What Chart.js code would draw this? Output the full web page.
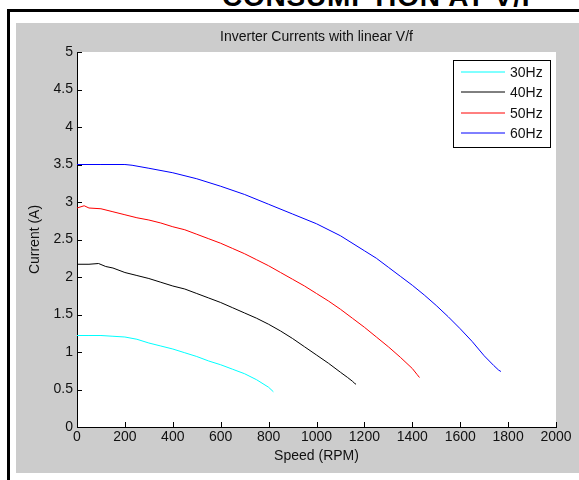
<!DOCTYPE html>
<html>
<head>
<meta charset="utf-8">
<script src="https://cdn.jsdelivr.net/npm/chart.js@4.4.0/dist/chart.umd.min.js"></script>
<style>
  body { margin: 0; background: #fff; overflow: hidden; width: 579px; height: 480px; position: relative; }
  #frame { position: absolute; left: 7px; top: 9px; width: 620px; height: 520px; border-left: 3px solid #000; border-top: 3px solid #000; }
  #head { position: absolute; left: 222px; top: -17px; font: bold 28px "Liberation Sans", Arial, sans-serif; line-height: 28px; letter-spacing: 0.8px; color: #000; white-space: nowrap; }
  #chart1 { position: absolute; left: 16px; top: 23px; background: #cccccc; }
</style>
</head>
<body>
<div id="head">CONSUMPTION AT V/F</div>
<div id="frame"></div>
<canvas id="chart1" width="563" height="450"></canvas>
<script>
// speed (RPM) and current (A) for each supply frequency
const speed30 = [0, 50, 100, 150, 200, 250, 300, 350, 400, 450, 500, 550, 600, 650, 700, 750, 800, 820];
const current30 = [1.22, 1.22, 1.22, 1.21, 1.20, 1.17, 1.12, 1.08, 1.04, 0.99, 0.94, 0.88, 0.83, 0.77, 0.71, 0.63, 0.53, 0.47];

const speed40 = [0, 50, 90, 120, 150, 200, 250, 300, 350, 400, 450, 500, 550, 600, 650, 700, 750, 800, 850, 900, 950, 1000, 1050, 1100, 1130, 1150, 1160, 1165];
const current40 = [2.17, 2.17, 2.18, 2.14, 2.12, 2.06, 2.02, 1.98, 1.93, 1.88, 1.84, 1.78, 1.72, 1.66, 1.59, 1.52, 1.45, 1.37, 1.28, 1.18, 1.07, 0.96, 0.85, 0.73, 0.66, 0.61, 0.58, 0.57];

const speed50 = [0, 30, 50, 100, 150, 200, 250, 300, 350, 400, 450, 500, 550, 600, 650, 700, 750, 800, 850, 900, 950, 1000, 1050, 1100, 1150, 1200, 1250, 1300, 1350, 1400, 1420, 1430];
const current50 = [2.92, 2.95, 2.92, 2.91, 2.87, 2.83, 2.79, 2.76, 2.72, 2.67, 2.63, 2.57, 2.51, 2.45, 2.38, 2.31, 2.23, 2.15, 2.06, 1.97, 1.88, 1.78, 1.68, 1.57, 1.45, 1.33, 1.20, 1.07, 0.93, 0.78, 0.70, 0.66];

const speed60 = [0, 100, 200, 230, 300, 400, 500, 600, 700, 800, 900, 1000, 1100, 1200, 1250, 1300, 1350, 1400, 1450, 1500, 1550, 1600, 1650, 1700, 1740, 1760, 1770];
const current60 = [3.50, 3.50, 3.50, 3.49, 3.45, 3.39, 3.31, 3.21, 3.10, 2.97, 2.84, 2.71, 2.55, 2.35, 2.25, 2.13, 2.01, 1.89, 1.76, 1.62, 1.47, 1.31, 1.14, 0.95, 0.82, 0.76, 0.74];

const labels = ['30Hz', '40Hz', '50Hz', '60Hz'];
const colors = ['#00ffff', '#000000', '#ff0000', '#0000ff'];

function pts(xs, ys) {
    return xs.map(function (x, i) { return { x: x, y: ys[i] }; });
}

const font = { family: '"Liberation Sans", Arial, sans-serif', size: 14, weight: 'normal' };

// white axes background
const axesBg = {
    id: 'axesBg',
    beforeDraw: function (chart) {
        const a = chart.chartArea, ctx = chart.ctx;
        ctx.save();
        ctx.fillStyle = '#ffffff';
        ctx.fillRect(a.left, a.top, a.right - a.left, a.bottom - a.top);
        ctx.restore();
    }
};

// matlab style ticks pointing inwards
const innerTicks = {
    id: 'innerTicks',
    afterDraw: function (chart) {
        const ctx = chart.ctx, a = chart.chartArea;
        const xs = chart.scales.x, ys = chart.scales.y;
        ctx.save();
        ctx.strokeStyle = '#000';
        ctx.lineWidth = 1;
        ctx.beginPath();
        xs.ticks.forEach(function (t) {
            const px = Math.round(xs.getPixelForValue(t.value)) + 0.5;
            ctx.moveTo(px, a.bottom);
            ctx.lineTo(px, a.bottom - 5);
        });
        ys.ticks.forEach(function (t) {
            const py = Math.round(ys.getPixelForValue(t.value)) + 0.5;
            ctx.moveTo(a.left, py);
            ctx.lineTo(a.left + 5, py);
        });
        ctx.stroke();
        ctx.restore();
    }
};

// boxed legend in the top right corner of the axes
const boxLegend = {
    id: 'boxLegend',
    afterDatasetsDraw: function (chart) {
        const ctx = chart.ctx, a = chart.chartArea;
        const w = 97, h = 87;
        const x0 = a.right - 6 - w, y0 = a.top + 8;
        ctx.save();
        ctx.fillStyle = '#fff';
        ctx.fillRect(x0, y0, w, h);
        ctx.strokeStyle = '#000';
        ctx.lineWidth = 1;
        ctx.strokeRect(x0 + 0.5, y0 + 0.5, w, h);
        ctx.font = font.size + 'px ' + font.family;
        ctx.textBaseline = 'middle';
        chart.data.datasets.forEach(function (ds, i) {
            const y = Math.round(y0 + 12 + i * 20.3);
            ctx.strokeStyle = ds.borderColor;
            ctx.beginPath();
            ctx.moveTo(x0 + 8, y);
            ctx.lineTo(x0 + 52, y);
            ctx.stroke();
            ctx.fillStyle = '#111';
            ctx.fillText(ds.label, x0 + 57, y + 1);
        });
        ctx.restore();
    }
};

const data1 = {
    datasets: [
        { label: labels[0], data: pts(speed30, current30), borderColor: colors[0] },
        { label: labels[1], data: pts(speed40, current40), borderColor: colors[1] },
        { label: labels[2], data: pts(speed50, current50), borderColor: colors[2] },
        { label: labels[3], data: pts(speed60, current60), borderColor: colors[3] }
    ]
};

data1.datasets.forEach(function (ds) {
    ds.borderWidth = 1;
    ds.pointRadius = 0;
    ds.tension = 0;
    ds.fill = false;
});

const config1 = {
    type: 'line',
    data: data1,
    plugins: [axesBg, innerTicks, boxLegend],
    options: {
        responsive: false,
        animation: false,
        devicePixelRatio: 1,
        layout: { padding: { left: 6, right: 23, top: 0, bottom: 0 } },
        plugins: {
            legend: { display: false },
            tooltip: { enabled: false }
        },
        scales: {
            x: {
                type: 'linear',
                min: 0,
                max: 2000,
                grid: { display: false, drawTicks: false },
                border: { display: true, color: '#000', width: 1 },
                ticks: {
                    stepSize: 200,
                    color: '#111',
                    font: font,
                    padding: 2,
                    maxRotation: 0,
                    callback: function (v) { return String(v); }
                },
                title: { display: true, text: 'Speed (RPM)', color: '#111', font: font, padding: { top: 0, bottom: 8 } },
                afterFit: function (s) { s.height = 46; }
            },
            // top scale only carries the plot title, centred over the axes
            top: {
                type: 'linear',
                position: 'top',
                min: 0,
                max: 2000,
                grid: { display: false, drawTicks: false },
                border: { display: false },
                ticks: { display: false },
                title: { display: true, text: 'Inverter Currents with linear V/f', color: '#111', font: font, padding: { top: 6, bottom: 0 } },
                afterFit: function (s) { s.height = 29; }
            },
            y: {
                min: 0,
                max: 5,
                grid: { display: false, drawTicks: false },
                border: { display: true, color: '#000', width: 1 },
                ticks: {
                    stepSize: 0.5,
                    color: '#111',
                    font: font,
                    padding: 4,
                    callback: function (v) { return String(v); }
                },
                title: { display: true, text: 'Current (A)', color: '#111', font: font, padding: { top: 5, bottom: 0 } },
                afterFit: function (s) { s.width = 55; }
            }
        }
    }
};

const ctx1 = document.getElementById('chart1').getContext('2d');
new Chart(ctx1, config1);
</script>
</body>
</html>
